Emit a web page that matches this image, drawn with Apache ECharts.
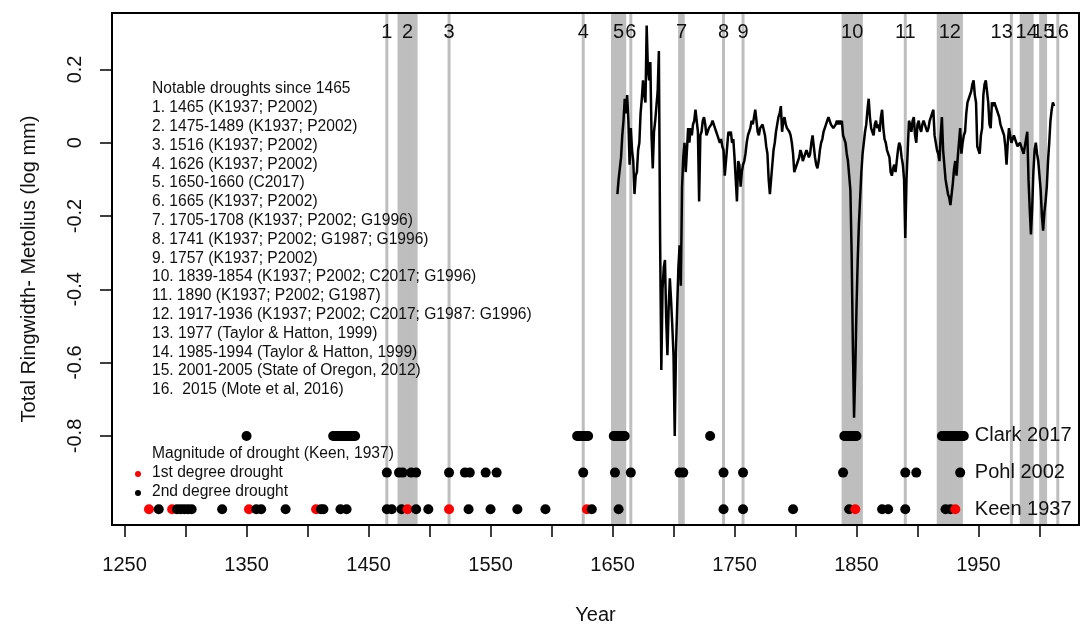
<!DOCTYPE html>
<html>
<head>
<meta charset="utf-8">
<script src="https://cdn.jsdelivr.net/npm/echarts@6/dist/echarts.min.js"></script>
<style>html,body{margin:0;padding:0;background:#fff}#c{width:1084px;height:626px}</style>
</head>
<body>
<div id="c"></div>
<script>
// ---- Data ----
const ringYears = [];
for (let y = 1654; y <= 2012; y++) ringYears.push(y);
const ringValues = [
 -0.14,-0.10,-0.07,-0.04,0.02,0.06,0.12,0.08,0.13,0.06,           // 1654-1663
 -0.06,0.04,-0.02,-0.05,-0.14,-0.09,-0.08,-0.02,0.00,0.08,        // 1664-1673
 0.12,0.17,0.13,0.11,0.32,0.20,0.17,0.22,0.02,-0.07,              // 1674-1683
 0.03,0.06,0.10,0.14,0.25,-0.26,-0.62,-0.40,-0.34,-0.32,          // 1684-1693
 -0.48,-0.58,-0.45,-0.37,-0.43,-0.50,-0.58,-0.80,-0.57,-0.45,     // 1694-1703
 -0.34,-0.28,-0.39,-0.12,-0.04,0.00,-0.08,-0.02,0.04,0.00,        // 1704-1713
 0.04,0.02,0.05,0.06,0.09,0.06,0.03,-0.16,0.02,0.03,              // 1714-1723
 0.06,0.07,0.05,0.02,0.03,0.04,0.04,0.05,0.06,0.06,               // 1724-1733
 0.04,0.03,0.02,0.01,0.00,0.01,-0.01,-0.02,-0.09,-0.05,           // 1734-1743
 -0.01,0.03,0.02,0.03,0.00,0.01,-0.04,-0.10,-0.16,-0.05,          // 1744-1753
 -0.06,-0.12,-0.08,-0.06,-0.05,-0.03,0.00,0.02,0.03,0.04,         // 1754-1763
 0.06,0.05,0.07,0.09,0.06,0.03,0.02,0.04,0.04,0.05,               // 1764-1773
 0.05,0.02,-0.01,-0.03,-0.10,-0.14,-0.10,-0.06,-0.02,0.00,        // 1774-1783
 0.03,0.05,0.07,0.08,0.10,0.03,0.06,0.07,0.05,0.04,               // 1784-1793
 0.04,0.03,0.02,0.00,-0.03,-0.08,-0.07,-0.06,-0.06,-0.04,         // 1794-1803
 -0.02,-0.03,-0.05,-0.04,-0.03,-0.02,-0.03,-0.04,-0.03,0.00,      // 1804-1813
 0.02,-0.01,-0.04,-0.06,-0.07,-0.05,-0.02,0.00,0.01,0.03,         // 1814-1823
 0.04,0.05,0.06,0.07,0.06,0.05,0.05,0.04,0.04,0.05,               // 1824-1833
 0.06,0.05,0.06,0.05,0.06,0.02,0.02,0.00,-0.03,-0.05,             // 1834-1843
 -0.09,-0.13,-0.30,-0.55,-0.75,-0.62,-0.45,-0.32,-0.22,-0.15,     // 1844-1853
 -0.08,-0.03,0.00,0.03,0.05,0.09,0.12,0.07,0.04,0.03,             // 1854-1863
 0.02,0.05,0.06,0.04,0.05,0.03,0.07,0.09,0.04,0.01,               // 1864-1873
 0.00,-0.02,-0.03,-0.04,-0.08,-0.09,-0.07,-0.06,-0.08,-0.05,      // 1874-1883
 -0.02,0.00,-0.01,-0.04,-0.06,-0.10,-0.26,-0.10,-0.02,0.06,       // 1884-1893
 0.05,0.03,0.06,0.07,0.02,0.00,0.05,0.06,0.04,0.03,               // 1894-1903
 0.05,0.06,0.05,0.04,0.03,0.04,0.06,0.07,0.08,0.09,               // 1904-1913
 0.02,0.00,-0.02,-0.03,-0.05,0.02,0.07,-0.02,-0.06,-0.10,         // 1914-1923
 -0.12,-0.14,-0.15,-0.17,-0.14,-0.11,-0.07,-0.05,-0.09,-0.04,     // 1924-1933
 0.00,0.04,-0.03,0.00,0.02,0.03,0.08,0.11,0.12,0.12,              // 1934-1943
 0.14,0.16,0.17,0.13,0.11,-0.01,-0.02,-0.03,0.02,0.04,            // 1944-1953
 0.13,0.16,0.17,0.14,0.11,0.05,0.04,0.11,0.10,0.11,               // 1954-1963
 0.10,0.09,0.09,0.07,0.05,0.04,0.03,0.02,-0.01,-0.06,             // 1964-1973
 0.00,0.04,0.02,0.00,0.01,0.02,0.02,0.00,-0.01,-0.01,             // 1974-1983
 0.00,-0.01,-0.02,-0.03,-0.03,0.01,0.03,-0.10,-0.18,-0.25,        // 1984-1993
 -0.18,-0.08,-0.02,0.00,-0.03,-0.05,-0.09,-0.13,-0.20,-0.24,      // 1994-2003
 -0.19,-0.16,-0.12,-0.05,0.00,0.06,0.09,0.11,0.10                 // 2004-2012
];

const clarkYears = [1350,
 1421,1422,1423,1424,1425,1426,1427,1428,1429,1430,1431,1432,1433,1434,1435,1436,1437,1438,1439,
 1621,1622,1623,1624,1625,1626,1627,1628,1629,1630,
 1651,1652,1653,1654,1655,1656,1657,1658,1659,1660,
 1730,
 1840,1841,1842,1843,1844,1845,1846,1847,1848,1849,1850,
 1920,1921,1922,1923,1924,1925,1926,1927,1928,1929,1930,1931,1932,1933,1934,1935,1936,1937,1938];
const pohlYears = [1465,1475,1478,1485,1489,1516,1529,1533,1546,1555,1626,1652,1665,1705,1708,1741,1757,1839,1890,1899,1935];
const keenYears  = [1270,1278,1289,1293,1296,1299,1302,1305,1330,1352,1358,1362,1382,1407,1411,1413,1427,1432,
  1465,1469,1477,1482,1489,1499,1516,1532,1550,1572,1595,1629,1633,1655,1741,1757,1798,1844,1849,1871,1876,1890,1923,1927,1931];
const keenDegree = [1,2,1,2,2,2,2,2,2,1,2,2,2,1,2,2,2,2,
  2,2,2,1,2,2,1,2,2,2,2,1,2,2,2,2,2,2,1,2,2,2,2,2,1];
const rowValue = {Clark: -0.8, Pohl: -0.9, Keen: -1.0};
const rowLabels = ['Clark 2017', 'Pohl 2002', 'Keen 1937'];
const rowLabelYear = 1947;

const droughtLines = [1465, 1516, 1626, 1665, 1741, 1757, 1890, 1977, 2015];
const droughtBands = [[1475,1489],[1650,1660],[1705,1708],[1839,1854],[1917,1936],[1985,1994],[2001,2005]];
const droughtLabelText = ['1','2','3','4','5','6','7','8','9','10','11','12','13','14','15','16'];
const droughtLabelYear = [1465,1482,1516,1626,1655,1665,1706.5,1741,1757,1846.5,1890,1926.5,1969,1989.5,2003,2015];

const xTicks = [1250,1300,1350,1400,1450,1500,1550,1600,1650,1700,1750,1800,1850,1900,1950,2000];
const xTickLabels = [1250,1350,1450,1550,1650,1750,1850,1950];
const yTicks = [0.2,0,-0.2,-0.4,-0.6,-0.8];

const notesTitle = 'Notable droughts since 1465';
const notes = [
 '1. 1465 (K1937; P2002)',
 '2. 1475-1489 (K1937; P2002)',
 '3. 1516 (K1937; P2002)',
 '4. 1626 (K1937; P2002)',
 '5. 1650-1660 (C2017)',
 '6. 1665 (K1937; P2002)',
 '7. 1705-1708 (K1937; P2002; G1996)',
 '8. 1741 (K1937; P2002; G1987; G1996)',
 '9. 1757 (K1937; P2002)',
 '10. 1839-1854 (K1937; P2002; C2017; G1996)',
 '11. 1890 (K1937; P2002; G1987)',
 '12. 1917-1936 (K1937; P2002; C2017; G1987: G1996)',
 '13. 1977 (Taylor & Hatton, 1999)',
 '14. 1985-1994 (Taylor & Hatton, 1999)',
 '15. 2001-2005 (State of Oregon, 2012)',
 '16.  2015 (Mote et al, 2016)'
];

// ---- Build ----
const FONT = '"Liberation Sans", Arial, sans-serif';
const GREY = '#bebebe';
const INK = '#111';
const X_MIN = 1239.7, X_MAX = 2032.4, Y_MIN = -1.043, Y_MAX = 0.354;
const NOTE_SIZE = 15.6;

const greyYears = droughtLines.slice();
droughtBands.forEach(([a, b]) => { for (let y = a; y <= b; y++) greyYears.push(y); });

const chart = echarts.init(document.getElementById('c'), null, {renderer: 'canvas'});

const keenData = keenYears.map((y, i) => ({
  value: [y, rowValue.Keen],
  itemStyle: {color: keenDegree[i] === 1 ? '#ff0000' : '#000', opacity: 1}
}));

const noteStyle = t => ({text: t, fontSize: NOTE_SIZE, fontFamily: FONT, fill: INK});
const textLines = [notesTitle].concat(notes);
const graphics = textLines.map((t, i) => ({
  type: 'text', left: 152, top: 81 + i * 18.8, z: 20, style: noteStyle(t)
}));
graphics.push(
  {type: 'text', left: 152, top: 446, z: 20, style: noteStyle('Magnitude of drought (Keen, 1937)')},
  {type: 'circle', z: 20, shape: {cx: 138, cy: 474, r: 3}, style: {fill: '#ff0000'}},
  {type: 'text', left: 152, top: 465, z: 20, style: noteStyle('1st degree drought')},
  {type: 'circle', z: 20, shape: {cx: 138, cy: 493, r: 3}, style: {fill: '#000'}},
  {type: 'text', left: 152, top: 484, z: 20, style: noteStyle('2nd degree drought')}
);

const option = {
  backgroundColor: '#fff',
  animation: false,
  textStyle: {fontFamily: FONT},
  grid: {left: 112, right: 5, top: 13, bottom: 101, show: true, borderColor: '#000', borderWidth: 2,
    backgroundColor: 'transparent', z: 10, containLabel: false, outerBoundsMode: 'none'},
  xAxis: {
    type: 'value', min: X_MIN, max: X_MAX,
    name: 'Year', nameLocation: 'middle', nameGap: 80,
    nameTextStyle: {fontSize: 20, color: INK, fontFamily: FONT},
    axisLine: {show: false, onZero: false},
    splitLine: {show: false},
    axisTick: {show: true, length: 12, lineStyle: {color: '#000', width: 1.5}, customValues: xTicks},
    axisLabel: {fontSize: 20, color: INK, margin: 30, customValues: xTickLabels, formatter: v => String(v)}
  },
  yAxis: {
    type: 'value', min: Y_MIN, max: Y_MAX,
    name: 'Total Ringwidth- Metolius (log mm)', nameLocation: 'middle', nameGap: 73,
    nameTextStyle: {fontSize: 20, color: INK, fontFamily: FONT},
    axisLine: {show: false, onZero: false},
    splitLine: {show: false},
    axisTick: {show: true, length: 12, lineStyle: {color: '#000', width: 1.5}, customValues: yTicks},
    axisLabel: {fontSize: 20, color: INK, margin: 27, rotate: 90, customValues: yTicks,
      formatter: v => (Math.abs(v) < 1e-9 ? '0' : String(Math.round(v * 10) / 10))}
  },
  graphic: graphics,
  series: [
    {
      type: 'custom', z: 1, silent: true,
      data: greyYears.map(y => [y]),
      renderItem: (params, api) => {
        const top = api.coord([api.value(0), Y_MAX]);
        const bot = api.coord([api.value(0), Y_MIN]);
        return {type: 'line', shape: {x1: top[0], y1: top[1], x2: bot[0], y2: bot[1]},
          style: {stroke: GREY, lineWidth: 3}};
      }
    },
    {
      type: 'line', z: 3, symbol: 'none', silent: true,
      lineStyle: {color: '#000', width: 2.5},
      data: ringYears.map((y, i) => [y, ringValues[i]])
    },
    {
      type: 'scatter', z: 4, symbolSize: 10, silent: true,
      itemStyle: {color: '#000', opacity: 1},
      data: clarkYears.map(y => [y, rowValue.Clark])
    },
    {
      type: 'scatter', z: 4, symbolSize: 10, silent: true,
      itemStyle: {color: '#000', opacity: 1},
      data: pohlYears.map(y => [y, rowValue.Pohl])
    },
    {
      type: 'scatter', z: 4, symbolSize: 10, silent: true,
      itemStyle: {opacity: 1},
      data: keenData
    },
    {
      type: 'scatter', z: 6, symbolSize: 0, silent: true,
      itemStyle: {opacity: 1},
      label: {show: true, position: 'inside', fontSize: 20, color: INK, fontFamily: FONT,
        formatter: p => droughtLabelText[p.dataIndex]},
      data: droughtLabelYear.map(y => [y, 0.30])
    },
    {
      type: 'scatter', z: 6, symbolSize: 0, silent: true,
      itemStyle: {opacity: 1},
      label: {show: true, position: 'right', distance: 0, fontSize: 20, color: INK, fontFamily: FONT,
        formatter: p => rowLabels[p.dataIndex]},
      data: [[rowLabelYear, rowValue.Clark], [rowLabelYear, rowValue.Pohl], [rowLabelYear, rowValue.Keen]]
    }
  ]
};
chart.setOption(option);
</script>
</body>
</html>
